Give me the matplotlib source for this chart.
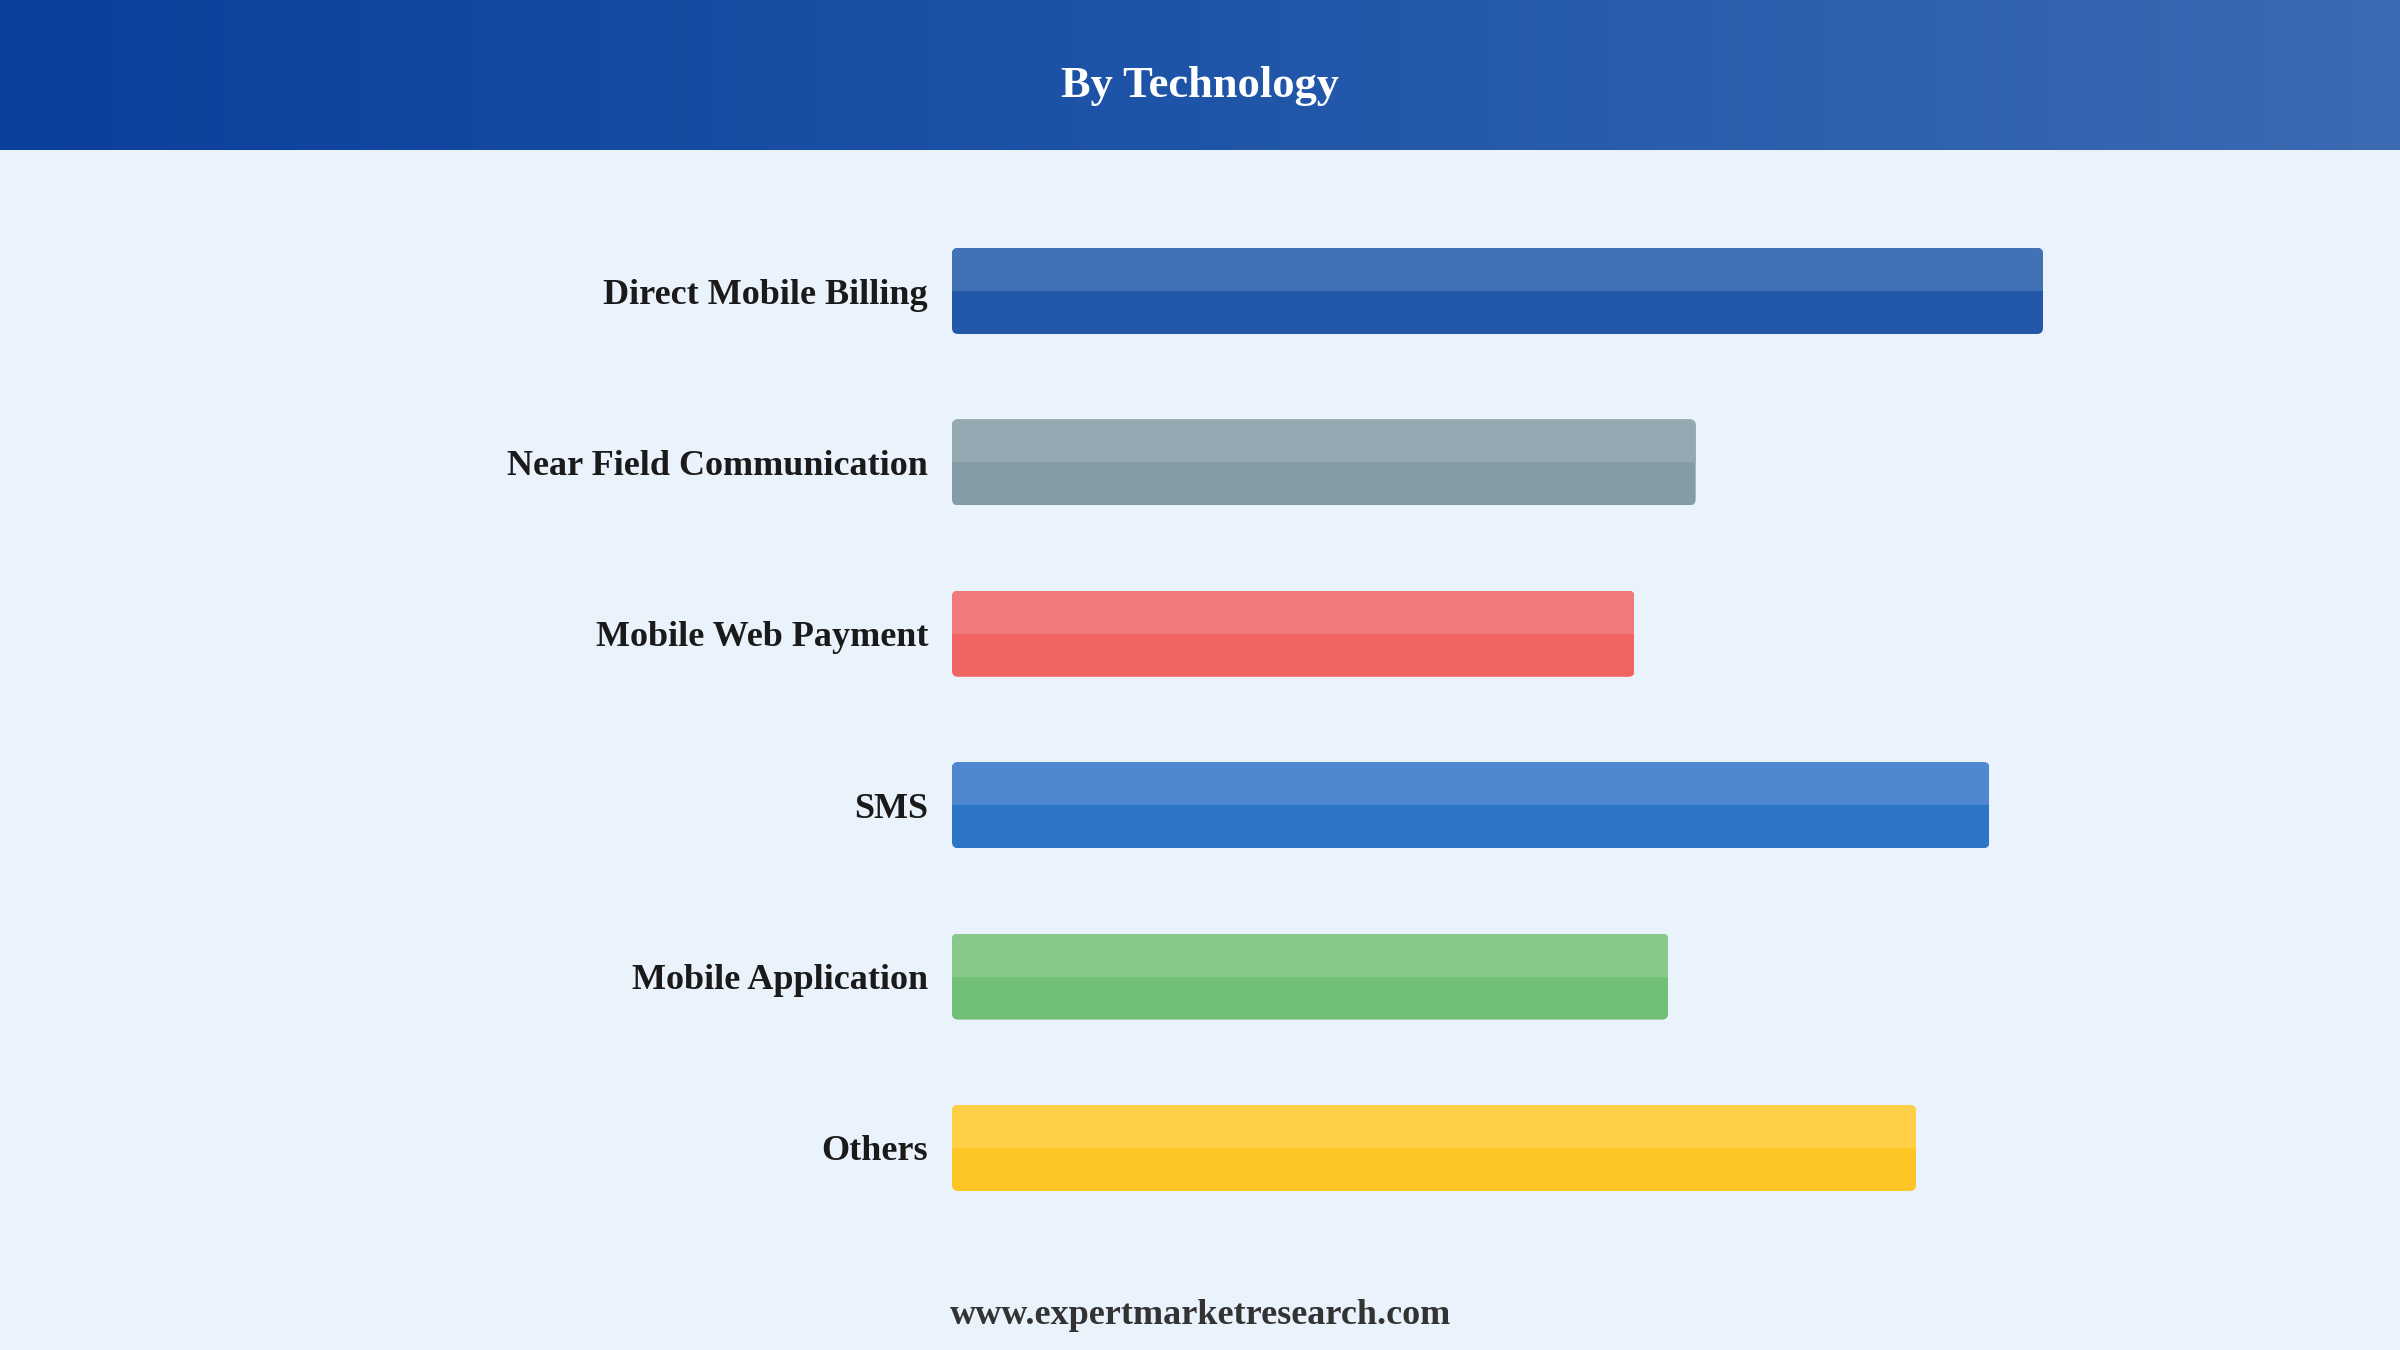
import numpy as np
import matplotlib
matplotlib.use("Agg")
import matplotlib.pyplot as plt
from matplotlib.patches import FancyBboxPatch
from matplotlib.colors import LinearSegmentedColormap

# ---- data ----
categories = ["Direct Mobile Billing", "Near Field Communication", "Mobile Web Payment",
              "SMS", "Mobile Application", "Others"]
values = [7.13, 4.86, 4.46, 6.78, 4.68, 6.30]
top_colors = ["#4272b6", "#96a8b2", "#f07a7a", "#4f88cf", "#88c98a", "#ffcf45"]
bottom_colors = ["#2357aa", "#849ca6", "#ef6461", "#2c74c6", "#72c077", "#fdc624"]
title = "By Technology"
footer = "www.expertmarketresearch.com"

W, H, DPI = 2400, 1350, 200
BG = "#eaf2fc"
SERIF = ["Liberation Serif", "DejaVu Serif"]

fig = plt.figure(figsize=(W / DPI, H / DPI), dpi=DPI, facecolor=BG)

# ---- header band with gradient ----
hdr_h = 150
hax = fig.add_axes([0, 1 - hdr_h / H, 1, hdr_h / H])
cmap = LinearSegmentedColormap.from_list("hdr", ["#0b3f9c", "#1f55a8", "#3c6ab3"])
hax.imshow(np.linspace(0, 1, 256)[None, :], aspect="auto", cmap=cmap,
           extent=[0, 1, 0, 1])
hax.set_axis_off()
fig.text(0.5, 1 - 86 / H, title, ha="center", va="center", color="white",
         fontsize=16, fontweight="bold", family=SERIF)

# ---- bar axes ----
x0, x1 = 952, 2043
c_first, c_last = 291, 1148
step = (c_last - c_first) / (len(categories) - 1)
ytop = c_first - step / 2
ybot = c_last + step / 2
ax = fig.add_axes([x0 / W, 1 - ybot / H, (x1 - x0) / W, (ybot - ytop) / H])
ax.set_facecolor("none")
ax.set_xlim(0, max(values))
ypos = np.arange(len(categories))
ax.set_ylim(len(categories) - 0.5, -0.5)
bar_h = 86 / step

px_x = (x1 - x0) / max(values)
px_y = step
r_px = 6
for i, v in enumerate(values):
    clip = FancyBboxPatch((0, i - bar_h / 2), v, bar_h,
                          boxstyle=f"round,pad=0,rounding_size={r_px / px_x}",
                          mutation_aspect=px_x / px_y,
                          transform=ax.transData, facecolor="none", edgecolor="none")
    ax.add_patch(clip)
    b1 = ax.barh(i, v, height=bar_h, color=bottom_colors[i], linewidth=0)
    b2 = ax.barh(i - bar_h / 4, v, height=bar_h / 2, color=top_colors[i], linewidth=0)
    for p in list(b1) + list(b2):
        p.set_clip_path(clip)

ax.set_yticks(ypos)
ax.set_yticklabels(categories)
for lab in ax.get_yticklabels():
    lab.set_fontfamily(SERIF)
    lab.set_fontweight("bold")
    lab.set_fontsize(13)
    lab.set_color("#1a1a1a")
ax.tick_params(axis="y", length=0, pad=24 / DPI * 72)
ax.set_xticks([])
for s in ax.spines.values():
    s.set_visible(False)

fig.text(0.5, 1 - 1316 / H, footer, ha="center", va="center", color="#333333",
         fontsize=13, fontweight="bold", family=SERIF)

fig.savefig("out.png", dpi=DPI, facecolor=BG)
